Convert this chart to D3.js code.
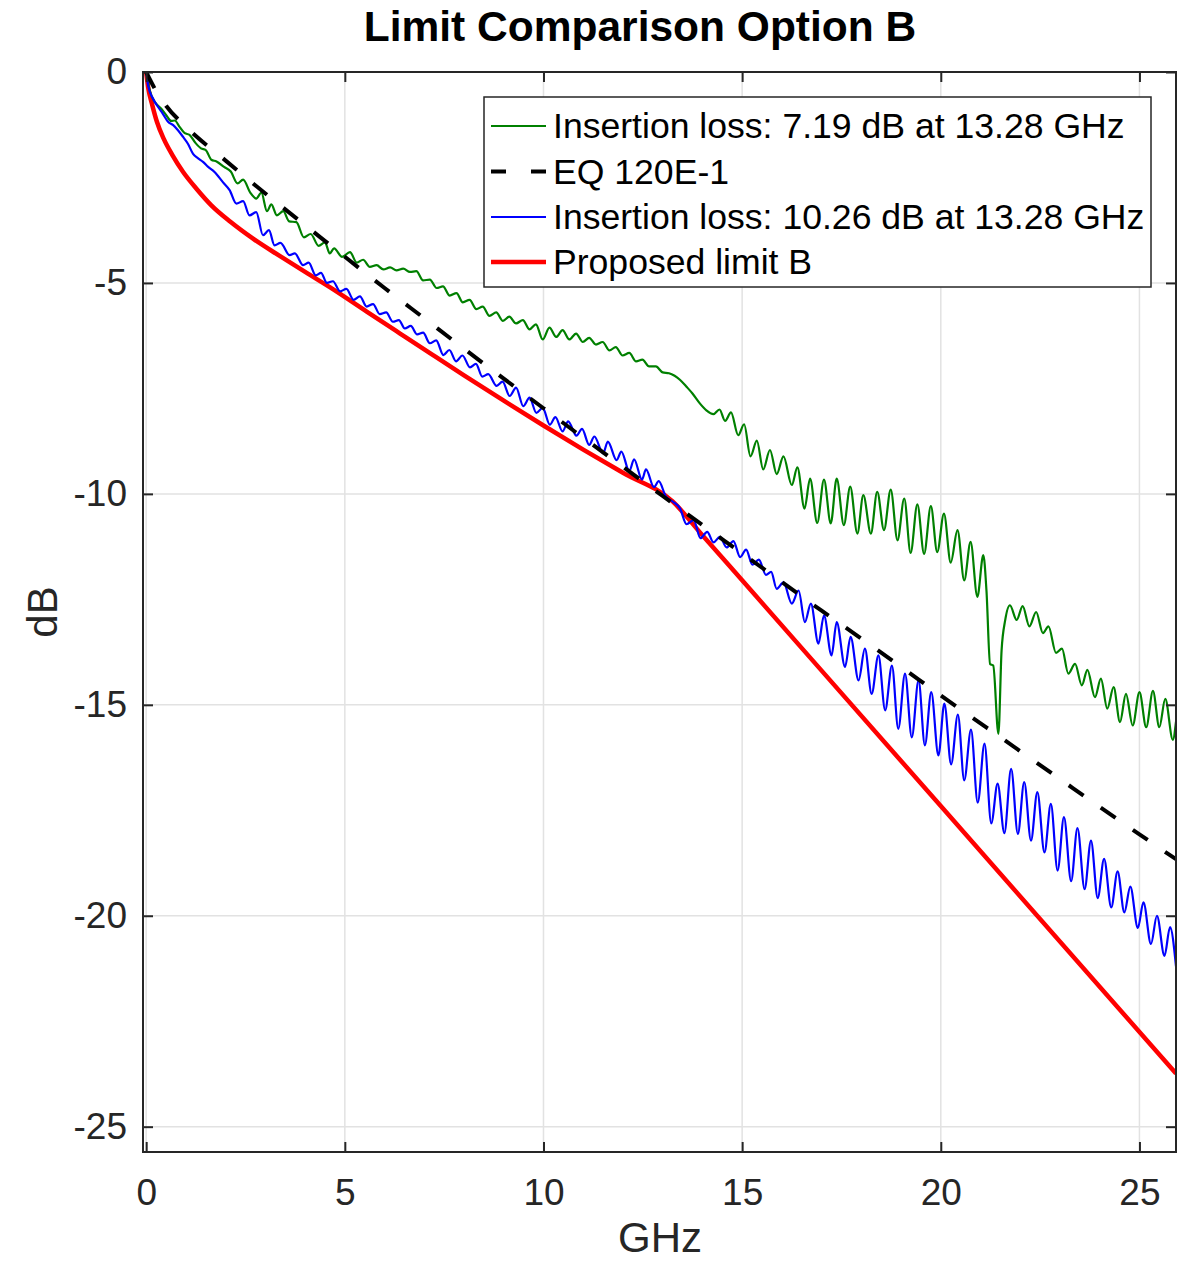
<!DOCTYPE html>
<html>
<head>
<meta charset="utf-8">
<script src="https://cdn.jsdelivr.net/npm/d3@7"></script>
<style>
  body { margin: 0; background: #fff; }
  svg { display: block; font-family: "Liberation Sans", Arial, Helvetica, sans-serif; }
</style>
</head>
<body>
<div class="chart"></div>
<script>
// chart values, [GHz, dB]
var greenLoss = [
  [0,0],[0.09,-0.44],[0.24,-0.74],[0.38,-0.87],[0.51,-1.03],[0.63,-1.16],[0.72,-1.15],[0.84,-1.30],
  [0.97,-1.45],[1.09,-1.49],[1.24,-1.68],[1.38,-1.81],[1.50,-1.85],[1.64,-2.08],[1.77,-2.12],[1.96,-2.25],
  [2.13,-2.36],[2.30,-2.64],[2.44,-2.55],[2.62,-2.86],[2.77,-3.00],[2.90,-2.86],[3.04,-3.30],[3.15,-3.14],
  [3.29,-3.40],[3.45,-3.30],[3.60,-3.54],[3.78,-3.56],[3.97,-3.92],[4.14,-3.84],[4.34,-4.12],[4.50,-4.04],
  [4.62,-4.30],[4.73,-4.18],[4.93,-4.38],[5.13,-4.27],[5.30,-4.52],[5.46,-4.45],[5.63,-4.62],[5.80,-4.58],
  [5.97,-4.68],[6.14,-4.63],[6.30,-4.70],[6.47,-4.66],[6.64,-4.74],[6.80,-4.72],[6.97,-4.94],[7.14,-4.92],
  [7.31,-5.12],[7.47,-5.08],[7.64,-5.30],[7.81,-5.24],[7.97,-5.46],[8.14,-5.40],[8.31,-5.62],[8.47,-5.56],
  [8.64,-5.78],[8.81,-5.70],[8.98,-5.90],[9.14,-5.80],[9.31,-5.96],[9.48,-5.88],[9.65,-6.10],[9.81,-5.98],
  [9.98,-6.34],[10.15,-6.06],[10.32,-6.28],[10.48,-6.12],[10.65,-6.34],[10.82,-6.20],[10.99,-6.40],[11.15,-6.30],
  [11.32,-6.46],[11.49,-6.40],[11.66,-6.60],[11.82,-6.52],[11.99,-6.72],[12.16,-6.66],[12.33,-6.86],[12.49,-6.82],
  [12.66,-6.98],[12.83,-6.98],[13.00,-7.12],[13.16,-7.14],[13.30,-7.20],[13.44,-7.30],[13.60,-7.46],[13.75,-7.62],
  [13.94,-7.86],[14.10,-8.02],[14.28,-8.11],[14.43,-8.00],[14.57,-8.27],[14.72,-8.07],[14.90,-8.61],[15.05,-8.35],
  [15.21,-9.11],[15.37,-8.74],[15.53,-9.42],[15.70,-8.96],[15.87,-9.53],[16.04,-9.11],[16.25,-9.79],[16.39,-9.37],
  [16.57,-10.35],[16.71,-9.64],[16.89,-10.69],[17.06,-9.66],[17.23,-10.70],[17.38,-9.64],[17.56,-10.74],[17.72,-9.83],
  [17.90,-10.94],[18.05,-10.03],[18.24,-10.94],[18.40,-9.95],[18.57,-10.86],[18.74,-9.90],[18.91,-11.10],[19.08,-10.11],
  [19.24,-11.40],[19.41,-10.25],[19.58,-11.42],[19.75,-10.29],[19.91,-11.38],[20.08,-10.47],[20.25,-11.63],[20.42,-10.86],
  [20.59,-12.05],[20.75,-11.14],[20.92,-12.44],[21.07,-11.45],[21.15,-12.30],[21.24,-14.03],[21.32,-14.07],[21.45,-15.69],
  [21.53,-13.71],[21.62,-13.00],[21.74,-12.64],[21.91,-12.99],[22.06,-12.66],[22.23,-13.14],[22.40,-12.80],[22.57,-13.30],
  [22.71,-13.14],[22.90,-13.77],[23.05,-13.67],[23.21,-14.26],[23.38,-14.03],[23.55,-14.54],[23.69,-14.17],[23.88,-14.82],
  [24.03,-14.38],[24.19,-15.09],[24.35,-14.58],[24.51,-15.41],[24.66,-14.74],[24.83,-15.49],[25.00,-14.70],[25.17,-15.53],
  [25.34,-14.67],[25.50,-15.53],[25.65,-14.86],[25.84,-15.83],[25.92,-15.40]
];

var blueLoss = [
  [0,0],[0.05,-0.32],[0.17,-0.63],[0.30,-0.83],[0.42,-0.99],[0.55,-1.18],[0.68,-1.26],[0.80,-1.38],
  [0.93,-1.54],[1.05,-1.70],[1.18,-1.94],[1.30,-2.04],[1.43,-2.13],[1.56,-2.25],[1.72,-2.37],[1.93,-2.61],
  [2.10,-2.80],[2.27,-3.12],[2.44,-3.06],[2.60,-3.40],[2.77,-3.32],[2.94,-3.87],[3.09,-3.75],[3.23,-4.11],
  [3.38,-4.05],[3.61,-4.34],[3.74,-4.30],[3.95,-4.58],[4.09,-4.52],[4.27,-4.82],[4.40,-4.76],[4.55,-5.00],
  [4.70,-4.96],[4.88,-5.20],[5.04,-5.14],[5.22,-5.40],[5.38,-5.32],[5.55,-5.56],[5.71,-5.50],[5.88,-5.74],
  [6.04,-5.70],[6.21,-5.92],[6.36,-5.88],[6.51,-6.08],[6.66,-6.02],[6.82,-6.22],[6.97,-6.18],[7.14,-6.43],
  [7.30,-6.36],[7.48,-6.71],[7.63,-6.59],[7.80,-6.86],[7.96,-6.72],[8.15,-7.00],[8.30,-6.92],[8.46,-7.22],
  [8.61,-7.16],[8.82,-7.44],[8.97,-7.34],[9.15,-7.68],[9.31,-7.48],[9.49,-7.92],[9.65,-7.72],[9.82,-8.08],
  [9.98,-7.96],[10.16,-8.36],[10.30,-8.18],[10.48,-8.52],[10.62,-8.28],[10.83,-8.62],[10.97,-8.46],[11.15,-8.84],
  [11.28,-8.64],[11.50,-9.04],[11.62,-8.76],[11.84,-9.20],[11.96,-9.00],[12.16,-9.46],[12.28,-9.18],[12.48,-9.66],
  [12.58,-9.42],[12.78,-9.84],[12.90,-9.70],[13.08,-10.06],[13.25,-10.18],[13.44,-10.35],[13.60,-10.72],[13.78,-10.62],
  [13.95,-11.05],[14.12,-10.90],[14.28,-11.15],[14.44,-11.02],[14.61,-11.27],[14.78,-11.12],[14.95,-11.50],[15.10,-11.32],
  [15.26,-11.68],[15.42,-11.56],[15.60,-11.92],[15.73,-11.85],[15.87,-12.25],[16.04,-12.10],[16.25,-12.60],[16.42,-12.29],
  [16.58,-13.04],[16.73,-12.60],[16.92,-13.55],[17.06,-12.88],[17.25,-13.83],[17.38,-13.04],[17.59,-14.10],[17.73,-13.39],
  [17.93,-14.42],[18.09,-13.67],[18.26,-14.74],[18.43,-13.83],[18.60,-15.13],[18.77,-14.07],[18.93,-15.57],[19.10,-14.26],
  [19.27,-15.77],[19.44,-14.42],[19.60,-15.96],[19.76,-14.70],[19.94,-16.20],[20.09,-14.97],[20.26,-16.41],[20.43,-15.23],
  [20.59,-16.79],[20.76,-15.59],[20.93,-17.32],[21.10,-15.92],[21.27,-17.81],[21.43,-16.87],[21.60,-18.04],[21.77,-16.52],
  [21.94,-18.06],[22.10,-16.83],[22.27,-18.22],[22.43,-17.07],[22.61,-18.50],[22.77,-17.35],[22.94,-18.93],[23.10,-17.66],
  [23.28,-19.18],[23.44,-17.92],[23.62,-19.37],[23.78,-18.22],[23.95,-19.58],[24.11,-18.65],[24.29,-19.80],[24.45,-18.95],
  [24.62,-19.92],[24.77,-19.31],[24.96,-20.29],[25.10,-19.68],[25.29,-20.67],[25.44,-20.00],[25.63,-20.95],[25.77,-20.27],
  [25.92,-21.20]
];

var eqLimit = [
  [0,0],[0.25,-0.45],[0.5,-0.80],[1,-1.30],[2,-2.10],[3,-2.88],[4,-3.63],[5,-4.38],[6,-5.12],[7,-5.84],
  [8,-6.56],[9,-7.27],[10,-7.97],[11,-8.67],[12,-9.36],[13,-10.05],[14,-10.74],[15,-11.41],[16,-12.09],
  [17,-12.77],[18,-13.43],[19,-14.10],[20,-14.78],[21,-15.44],[22,-16.10],[23,-16.76],[24,-17.42],
  [25,-18.07],[25.92,-18.66]
];

var limitB = [
  [0,0],[0.054,-0.39],[0.155,-0.79],[0.27,-1.18],[0.44,-1.58],[0.66,-1.97],[0.93,-2.37],[1.26,-2.76],
  [1.64,-3.16],[2.12,-3.55],[2.69,-3.95],[3.36,-4.36],[4.07,-4.78],[4.62,-5.10],[5.55,-5.68],[6.39,-6.20],
  [7.2,-6.70],[8,-7.19],[9,-7.79],[10,-8.38],[11,-8.95],[12,-9.50],[13.25,-10.18],[14,-10.98],
  [15,-12.05],[20,-17.40],[25.92,-23.74]
];

var xTicks = [0, 5, 10, 15, 20, 25];
var yTicks = [0, -5, -10, -15, -20, -25];
var legendLabels = [
  'Insertion loss: 7.19 dB at 13.28 GHz',
  'EQ 120E-1',
  'Insertion loss: 10.26 dB at 13.28 GHz',
  'Proposed limit B'
];

var width = 1184, height = 1264;
var plot = {left: 143, right: 1176, top: 72, bottom: 1152};
var axisColor = '#262626';

var x = d3.scaleLinear().domain([-0.08, 25.92]).range([plot.left, plot.right]);
var y = d3.scaleLinear().domain([-25.6, 0]).range([plot.bottom, plot.top]);

var svg = d3.select('.chart').append('svg')
  .attr('width', width)
  .attr('height', height);

svg.append('defs').append('clipPath')
  .attr('id', 'plotclip')
  .append('rect')
  .attr('x', plot.left)
  .attr('y', plot.top)
  .attr('width', plot.right - plot.left)
  .attr('height', plot.bottom - plot.top);

// grid
var grid = svg.append('g').attr('class', 'grid');
grid.selectAll('.gx').data(xTicks).enter().append('line')
  .attr('x1', d => x(d)).attr('x2', d => x(d))
  .attr('y1', plot.top).attr('y2', plot.bottom)
  .attr('stroke', '#e2e2e2').attr('stroke-width', 1.5);
grid.selectAll('.gy').data(yTicks).enter().append('line')
  .attr('x1', plot.left).attr('x2', plot.right)
  .attr('y1', d => y(d)).attr('y2', d => y(d))
  .attr('stroke', '#e2e2e2').attr('stroke-width', 1.5);

// series
var line = d3.line()
  .x(d => x(d[0]))
  .y(d => y(d[1]))
  .curve(d3.curveMonotoneX);

var series = [
  {data: greenLoss, color: '#008000', width: 2.2, dash: null},
  {data: eqLimit, color: '#000000', width: 4, dash: '18,21'},
  {data: blueLoss, color: '#0000ff', width: 2.2, dash: null},
  {data: limitB, color: '#ff0000', width: 4.5, dash: null}
];

var lines = svg.append('g').attr('clip-path', 'url(#plotclip)');
lines.selectAll('path')
  .data([series[3], series[0], series[2], series[1]])
  .enter().append('path')
  .attr('d', d => line(d.data))
  .attr('fill', 'none')
  .attr('stroke', d => d.color)
  .attr('stroke-width', d => d.width)
  .attr('stroke-dasharray', d => d.dash)
  .attr('stroke-linejoin', 'round');

// axes, ticks pointing inward
var fmt = d => String(d);

svg.append('g')
  .attr('transform', 'translate(0,' + plot.bottom + ')')
  .call(d3.axisBottom(x).tickValues(xTicks).tickFormat(fmt)
    .tickSizeInner(-10).tickSizeOuter(0).tickPadding(27));

svg.append('g')
  .attr('transform', 'translate(' + plot.left + ',0)')
  .call(d3.axisLeft(y).tickValues(yTicks).tickFormat(fmt)
    .tickSizeInner(-10).tickSizeOuter(0).tickPadding(16));

svg.append('g')
  .attr('transform', 'translate(0,' + plot.top + ')')
  .call(d3.axisTop(x).tickValues(xTicks).tickFormat('').tickSizeInner(-10).tickSizeOuter(0));

svg.append('g')
  .attr('transform', 'translate(' + plot.right + ',0)')
  .call(d3.axisRight(y).tickValues(yTicks).tickFormat('').tickSizeInner(-10).tickSizeOuter(0));

svg.selectAll('.domain').remove();
svg.selectAll('.tick line').attr('stroke', axisColor).attr('stroke-width', 2);
svg.selectAll('.tick text')
  .attr('fill', axisColor)
  .style('font-size', '37px')
  .style('font-family', '"Liberation Sans", Arial, Helvetica, sans-serif');

svg.append('rect')
  .attr('x', plot.left).attr('y', plot.top)
  .attr('width', plot.right - plot.left)
  .attr('height', plot.bottom - plot.top)
  .attr('fill', 'none')
  .attr('stroke', axisColor)
  .attr('stroke-width', 2);

// labels
svg.append('text')
  .attr('x', 640).attr('y', 41)
  .attr('text-anchor', 'middle')
  .attr('font-weight', 'bold')
  .attr('font-size', 42.5)
  .attr('fill', '#000')
  .text('Limit Comparison Option B');

svg.append('text')
  .attr('x', 660).attr('y', 1252)
  .attr('text-anchor', 'middle')
  .attr('font-size', 42)
  .attr('fill', axisColor)
  .text('GHz');

svg.append('text')
  .attr('transform', 'translate(57,612) rotate(-90)')
  .attr('text-anchor', 'middle')
  .attr('font-size', 42)
  .attr('fill', axisColor)
  .text('dB');

// legend
var legend = svg.append('g').attr('class', 'legend');
legend.append('rect')
  .attr('x', 484).attr('y', 97)
  .attr('width', 667).attr('height', 190)
  .attr('fill', '#fff')
  .attr('stroke', axisColor)
  .attr('stroke-width', 1.5);

var rowY = [126, 171.5, 217, 262];
var item = legend.selectAll('.item')
  .data(series)
  .enter().append('g')
  .attr('class', 'item')
  .attr('transform', (d, i) => 'translate(0,' + rowY[i] + ')');

item.append('line')
  .attr('x1', 491).attr('x2', 546)
  .attr('stroke', d => d.color)
  .attr('stroke-width', d => d.width)
  .attr('stroke-dasharray', d => d.dash ? '15,25' : null);

item.append('text')
  .attr('x', 553)
  .attr('dy', '0.35em')
  .attr('font-size', 35.6)
  .attr('fill', '#000')
  .text((d, i) => legendLabels[i]);
</script>
</body>
</html>
